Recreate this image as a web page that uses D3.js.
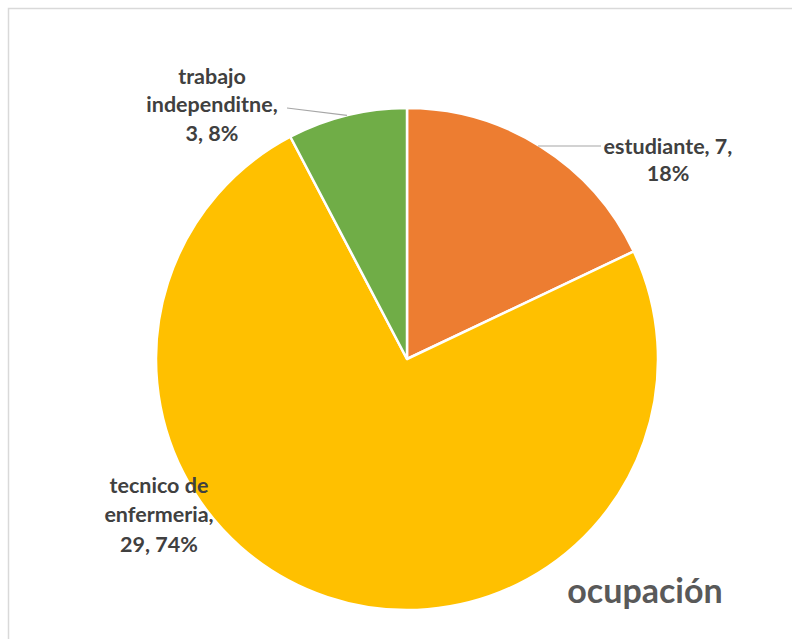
<!DOCTYPE html>
<html>
<head>
<meta charset="utf-8">
<script src="https://cdn.jsdelivr.net/npm/d3@7/dist/d3.min.js"></script>
<style>
  html, body { margin: 0; padding: 0; background: #fff; }
  svg { display: block; }
</style>
</head>
<body>
<svg id="chart" width="792" height="639"></svg>
<script>
// Occupation breakdown
const categories = ["estudiante", "tecnico de enfermeria", "trabajo independitne"];
const counts = [7, 29, 3];
const percents = ["18%", "74%", "8%"];
const colors = ["#ED7D31", "#FFC000", "#70AD47"];
const labelLines = [
  ["estudiante, 7,", "18%"],
  ["tecnico de", "enfermeria,", "29, 74%"],
  ["trabajo", "independitne,", "3, 8%"]
];
const title = "ocupación";

const svg = d3.select("#chart");
const W = 792, H = 639;

// chart area frame
svg.append("rect")
  .attr("x", 8.5).attr("y", 8.5)
  .attr("width", W).attr("height", H)
  .attr("fill", "#fff")
  .attr("stroke", "#d9d9d9").attr("stroke-width", 1.5);

const cx = 407, cy = 359, R = 251;

const pie = d3.pie().sort(null).value(d => d)(counts);
const arc = d3.arc().innerRadius(0).outerRadius(R);

const g = svg.append("g").attr("transform", `translate(${cx},${cy})`);
g.selectAll("path.slice")
  .data(pie)
  .join("path")
  .attr("class", "slice")
  .attr("d", arc)
  .attr("fill", (d, i) => colors[i])
  .attr("stroke", "#fff")
  .attr("stroke-width", 2.5)
  .attr("stroke-linejoin", "round");

// label block positions (x centre, y of first line centre)
const labelPos = [
  { x: 668, y: 146, lineH: 27.5 },
  { x: 159, y: 485, lineH: 29.5 },
  { x: 212, y: 76, lineH: 28.5 }
];

const lineColor = "#a6a6a6";
const rimPoint = (d, r) => {
  const a = (d.startAngle + d.endAngle) / 2;
  return [cx + r * Math.sin(a), cy - r * Math.cos(a)];
};

// estudiante leader: horizontal from the label to the slice
svg.append("path")
  .attr("d", "M601,146 L538,146")
  .attr("stroke", lineColor).attr("stroke-width", 1.2).attr("fill", "none");

// trabajo leader: from the label to the middle of its arc
{
  const [ex, ey] = rimPoint(pie[2], R);
  svg.append("path")
    .attr("d", `M287,108 L${ex},${ey}`)
    .attr("stroke", lineColor).attr("stroke-width", 1.2).attr("fill", "none");
}

const font = "Lato, 'Open Sans', sans-serif";
labelLines.forEach((lines, i) => {
  const p = labelPos[i];
  const t = svg.append("text")
    .attr("text-anchor", "middle")
    .attr("font-family", font)
    .attr("font-weight", 700)
    .attr("font-size", 21.5)
    .attr("fill", "#404040");
  lines.forEach((ln, k) => {
    t.append("tspan")
      .attr("x", p.x)
      .attr("y", p.y + k * p.lineH)
      .attr("dy", "0.35em")
      .text(ln);
  });
});

svg.append("text")
  .attr("x", 645).attr("y", 603)
  .attr("text-anchor", "middle")
  .attr("font-family", font)
  .attr("font-weight", 700)
  .attr("font-size", 34)
  .attr("fill", "#595959")
  .text(title);
</script>
</body>
</html>
